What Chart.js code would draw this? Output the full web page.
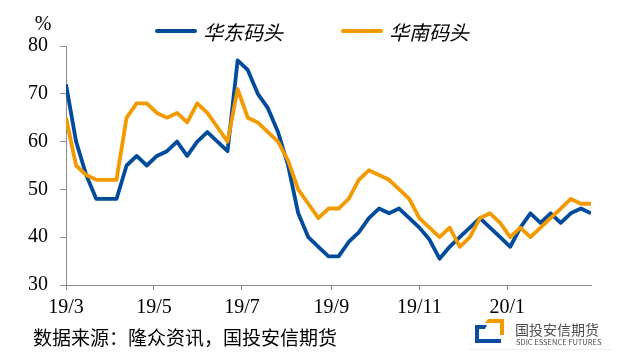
<!DOCTYPE html>
<html><head><meta charset="utf-8">
<script src="https://cdn.jsdelivr.net/npm/chart.js@4.4.1/dist/chart.umd.min.js"></script>
<style>html,body{margin:0;padding:0;background:#fff;}#wrap{width:621px;height:355px;position:relative;}</style>
</head><body><div id="wrap"><canvas id="c" width="621" height="355"></canvas></div>
<script>
// ---- data ----
const startDate = '2019-03-01';
const dates = [
  '2019-03-01','2019-03-08','2019-03-15','2019-03-22','2019-03-29',
  '2019-04-05','2019-04-12','2019-04-19','2019-04-26',
  '2019-05-03','2019-05-10','2019-05-17','2019-05-24','2019-05-31',
  '2019-06-07','2019-06-14','2019-06-21','2019-06-28',
  '2019-07-05','2019-07-12','2019-07-19','2019-07-26',
  '2019-08-02','2019-08-09','2019-08-16','2019-08-23','2019-08-30',
  '2019-09-06','2019-09-13','2019-09-20','2019-09-27',
  '2019-10-04','2019-10-11','2019-10-18','2019-10-25',
  '2019-11-01','2019-11-08','2019-11-15','2019-11-22','2019-11-29',
  '2019-12-06','2019-12-13','2019-12-20','2019-12-27',
  '2020-01-03','2020-01-10','2020-01-17','2020-01-24','2020-01-31',
  '2020-02-07','2020-02-14','2020-02-21','2020-02-28'
];
const eastValues = [
  72,60,53,48,48,48,55,57,55,57,58,60,57,60,62,60,58,77,75,70,67,62,55,45,40,38,36,36,
  39,41,44,46,45,46,44,42,39.5,35.5,38,40,42,44,42,40,38,42,45,43,45,43,45,46,45
];
const southValues = [
  65,55,53,52,52,52,65,68,68,66,65,66,64,68,66,63,60,71,65,64,62,60,56,50,47,44,46,46,
  48,52,54,53,52,50,48,44,42,40,42,38,40,44,45,43,40,42,40,42,44,46,48,47,47
];
const seriesNames = ['华东码头','华南码头'];
const tickDates = ['2019-03-01','2019-05-01','2019-07-01','2019-09-01','2019-11-01','2020-01-01'];
const tickLabels = ['19/3','19/5','19/7','19/9','19/11','20/1'];
const yMin = 30, yMax = 80, yStep = 10;
const unitLabel = '%';
const sourceText = '数据来源：隆众资讯，国投安信期货';
const logoName = '国投安信期货';
const logoSub = 'SDIC ESSENCE FUTURES';

// ---- helpers ----
const dayOf = d => Math.round((Date.parse(d) - Date.parse(startDate)) / 86400000);
const toPoints = vals => vals.map((v, i) => ({ x: dayOf(dates[i]), y: v }));
const tickDays = tickDates.map(dayOf);
const BLUE = '#004B9B', ORANGE = '#F39A00', AXIS = '#8C8C8C';
const SERIF = '"Liberation Serif", "Times New Roman", serif';
const SANS = '"Noto Sans CJK SC", "Noto Sans", sans-serif';

const extras = {
  id: 'extras',
  afterDraw(chart) {
    const ctx = chart.ctx;
    ctx.save();
    // unit label
    ctx.fillStyle = '#000';
    ctx.font = '20px ' + SERIF;
    ctx.textAlign = 'center';
    ctx.textBaseline = 'middle';
    ctx.fillText(unitLabel, 43, 25);
    // legend
    ctx.font = 'italic 20px ' + SANS;
    ctx.textAlign = 'left';
    let x = 155;
    const ly = 31;
    chart.data.datasets.forEach((ds) => {
      ctx.strokeStyle = ds.borderColor;
      ctx.lineWidth = 4;
      ctx.lineCap = 'round';
      ctx.beginPath();
      ctx.moveTo(x + 2, ly);
      ctx.lineTo(x + 40, ly);
      ctx.stroke();
      ctx.fillStyle = '#000';
      ctx.fillText(ds.label, x + 48, ly + 1);
      x += 48 + ctx.measureText(ds.label).width + 58;
    });
    // source
    ctx.font = '19px ' + SANS;
    ctx.fillStyle = '#000';
    ctx.textBaseline = 'middle';
    ctx.fillText(sourceText, 33, 338);
    // logo icon
    ctx.fillStyle = ORANGE;
    ctx.beginPath();
    ctx.moveTo(488, 319); ctx.lineTo(504, 319); ctx.lineTo(504, 335);
    ctx.lineTo(500, 335); ctx.lineTo(500, 323); ctx.lineTo(485, 323);
    ctx.closePath(); ctx.fill();
    ctx.fillStyle = '#0A4CA0';
    ctx.beginPath();
    ctx.moveTo(475, 325); ctx.lineTo(487, 325); ctx.lineTo(485, 329);
    ctx.lineTo(479, 329); ctx.lineTo(479, 339); ctx.lineTo(501, 339);
    ctx.lineTo(501, 343); ctx.lineTo(475, 343);
    ctx.closePath(); ctx.fill();
    // logo text
    ctx.fillStyle = '#4D4D4D';
    ctx.font = '14px ' + SANS;
    ctx.textBaseline = 'middle';
    ctx.fillText(logoName, 515, 330);
    ctx.font = '7.5px ' + SANS;
    ctx.fillText(logoSub, 516, 342);
    ctx.strokeStyle = '#EEEEEE';
    ctx.lineWidth = 1;
    ctx.beginPath(); ctx.moveTo(470, 349.5); ctx.lineTo(613, 349.5); ctx.stroke();
    ctx.restore();
  }
};

new Chart(document.getElementById('c'), {
  type: 'line',
  data: {
    datasets: [
      { label: seriesNames[0], data: toPoints(eastValues), borderColor: BLUE, backgroundColor: BLUE,
        borderWidth: 3.8, pointRadius: 0, tension: 0, borderJoinStyle: 'round', order: 1 },
      { label: seriesNames[1], data: toPoints(southValues), borderColor: ORANGE, backgroundColor: ORANGE,
        borderWidth: 3.8, pointRadius: 0, tension: 0, borderJoinStyle: 'round', order: 0 }
    ]
  },
  options: {
    responsive: false,
    devicePixelRatio: 1,
    animation: false,
    layout: { padding: { top: 46, right: 30, bottom: 0, left: 0 } },
    plugins: { legend: { display: false }, tooltip: { enabled: false } },
    scales: {
      x: {
        type: 'linear',
        min: 0,
        max: dayOf(dates[dates.length - 1]),
        afterBuildTicks: s => { s.ticks = tickDays.map(v => ({ value: v })); },
        afterFit: s => { s.height = 70; },
        ticks: {
          autoSkip: false, maxRotation: 0, padding: 6, color: '#000',
          font: { family: SERIF, size: 20 },
          callback: v => tickLabels[tickDays.indexOf(v)]
        },
        grid: { drawOnChartArea: false, drawTicks: true, tickLength: 5, color: AXIS },
        border: { color: AXIS, width: 1 }
      },
      y: {
        min: yMin, max: yMax,
        afterFit: s => { s.width = 66; },
        ticks: { stepSize: yStep, padding: 12, color: '#000', font: { family: SERIF, size: 20 } },
        grid: { drawOnChartArea: false, drawTicks: true, tickLength: 6, color: AXIS },
        border: { color: AXIS, width: 1 }
      }
    }
  },
  plugins: [extras]
});
</script></body></html>
